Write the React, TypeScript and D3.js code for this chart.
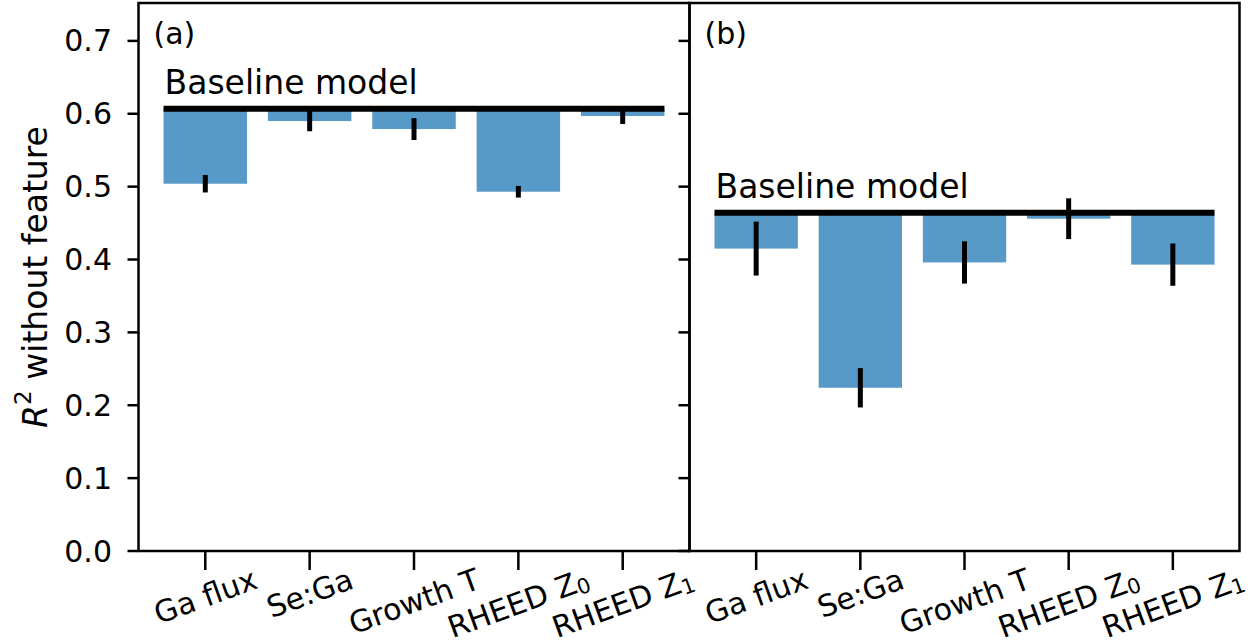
import React, { useRef, useEffect } from 'react';
import * as d3 from 'd3';

const featureMain = ['Ga flux', 'Se:Ga', 'Growth T', 'RHEED Z', 'RHEED Z'];
const featureSub = ['', '', '', '0', '1'];
const panelLabels = ['(a)', '(b)'];
const baselines = [0.607, 0.464];
const valuesA = [0.504, 0.590, 0.579, 0.493, 0.597];
const errorsA = [0.012, 0.014, 0.015, 0.008, 0.011];
const valuesB = [0.415, 0.224, 0.396, 0.456, 0.393];
const errorsB = [0.037, 0.027, 0.029, 0.028, 0.029];
const yTicks = [0, 0.1, 0.2, 0.3, 0.4, 0.5, 0.6, 0.7];
const yTickLabels = ['0.0', '0.1', '0.2', '0.3', '0.4', '0.5', '0.6', '0.7'];
const baselineText = 'Baseline model';

const W = 1252;
const H = 643;
const FONT = 'DejaVu Sans, sans-serif';
const FS = 30;
const FS_BIG = 33;
const BAR = '#5799C7';

export default function App() {
  const ref = useRef<SVGSVGElement | null>(null);
  useEffect(() => {
    const svg = d3.select(ref.current);
    svg.selectAll('*').remove();
    const top = 3, bottom = 551;
    const y = d3.scaleLinear().domain([0, 0.752]).range([bottom, top]);
    const panels = [
      { left: 138.5, right: 689.5, values: valuesA, errors: errorsA },
      { left: 689.5, right: 1239.5, values: valuesB, errors: errorsB },
    ];
    panels.forEach((p, pi) => {
      const x = d3.scaleLinear().domain([-0.64, 4.64]).range([p.left, p.right]);
      const g = svg.append('g');
      const bw = x(0.4) - x(0);
      const base = baselines[pi];
      // bars
      g.selectAll('rect.bar').data(p.values).enter().append('rect')
        .attr('x', (_, i) => x(i - 0.4))
        .attr('width', bw * 2)
        .attr('y', y(base))
        .attr('height', (d) => y(d) - y(base))
        .attr('fill', BAR);
      // error bars
      g.selectAll('line.err').data(p.values).enter().append('line')
        .attr('x1', (_, i) => x(i)).attr('x2', (_, i) => x(i))
        .attr('y1', (d, i) => y(d - p.errors[i]))
        .attr('y2', (d, i) => y(d + p.errors[i]))
        .attr('stroke', '#000').attr('stroke-width', 5);
      // baseline line
      g.append('line')
        .attr('x1', x(-0.4)).attr('x2', x(4.4))
        .attr('y1', y(base)).attr('y2', y(base))
        .attr('stroke', '#000').attr('stroke-width', 6);
      g.append('text')
        .attr('x', x(-0.4) + 1).attr('y', y(base) - 15)
        .attr('font-family', FONT).attr('font-size', FS_BIG)
        .text(baselineText);
      // panel label
      g.append('text')
        .attr('x', p.left + 15).attr('y', 44)
        .attr('font-family', FONT).attr('font-size', FS)
        .text(panelLabels[pi]);
      // y ticks
      g.selectAll('line.yt').data(yTicks).enter().append('line')
        .attr('x1', p.left - 11).attr('x2', p.left)
        .attr('y1', (d) => y(d)).attr('y2', (d) => y(d))
        .attr('stroke', '#000').attr('stroke-width', 2.5);
      if (pi === 0) {
        g.selectAll('text.yt').data(yTicks).enter().append('text')
          .attr('x', p.left - 26.5).attr('y', (d) => y(d))
          .attr('text-anchor', 'end').attr('dominant-baseline', 'central')
          .attr('font-family', FONT).attr('font-size', FS)
          .text((_, i) => yTickLabels[i]);
      }
      // x ticks
      g.selectAll('line.xt').data(featureMain).enter().append('line')
        .attr('x1', (_, i) => x(i)).attr('x2', (_, i) => x(i))
        .attr('y1', bottom).attr('y2', bottom + 19)
        .attr('stroke', '#000').attr('stroke-width', 2.5);
      featureMain.forEach((name, i) => {
        const t = g.append('text')
          .attr('font-family', FONT).attr('font-size', FS)
          .attr('text-anchor', 'middle').attr('dominant-baseline', 'central');
        t.append('tspan').text(name);
        if (featureSub[i]) {
          t.append('tspan').attr('dy', 7).attr('font-size', FS * 0.7).text(featureSub[i]);
        }
        const node = t.node() as SVGTextElement;
        const tw = node.getBBox().width;
        const th = FS * 1.164;
        const a = (20 * Math.PI) / 180;
        const bh = tw * Math.sin(a) + th * Math.cos(a);
        const cx = x(i);
        const cy = 561 + bh / 2;
        t.attr('x', cx).attr('y', cy)
          .attr('transform', `rotate(-20, ${cx}, ${cy})`);
      });
      // frame
      g.append('rect')
        .attr('x', p.left).attr('y', top)
        .attr('width', p.right - p.left).attr('height', bottom - top)
        .attr('fill', 'none').attr('stroke', '#000').attr('stroke-width', 2.5);
    });
    // y label
    const yl = svg.append('text')
      .attr('transform', 'translate(35, 277) rotate(-90)')
      .attr('text-anchor', 'middle').attr('dominant-baseline', 'central')
      .attr('font-family', FONT).attr('font-size', FS_BIG);
    yl.append('tspan').attr('font-style', 'italic').text('R');
    yl.append('tspan').attr('dy', -12).attr('font-size', FS_BIG * 0.7).text('2');
    yl.append('tspan').attr('dy', 12).text(' without feature');
  }, []);
  return (
    <svg ref={ref} width={W} height={H}
      style={{ position: 'absolute', left: 0, top: 0, background: '#fff' }} />
  );
}
